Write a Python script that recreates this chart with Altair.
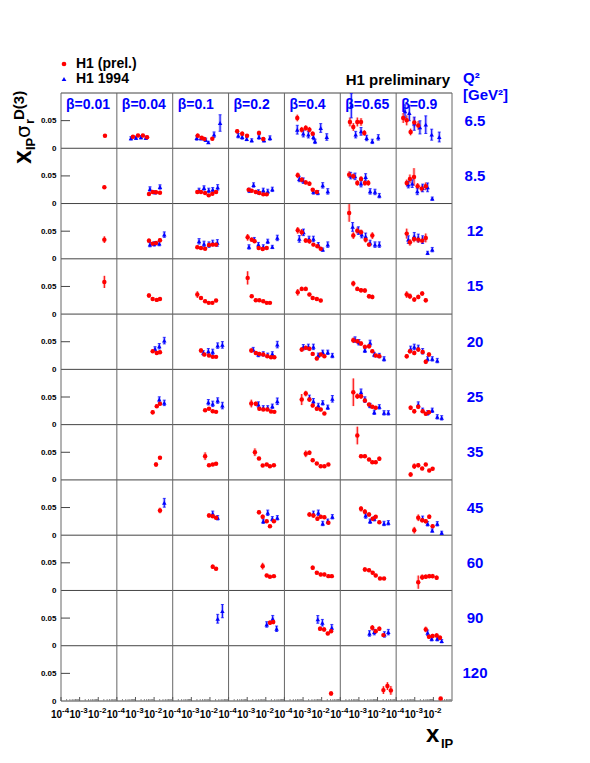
import math
import altair as alt
import pandas as pd

# ---------------- data -----------------
BETAS = [0.01, 0.04, 0.1, 0.2, 0.4, 0.65, 0.9]
BETA_LABELS = ["β=0.01", "β=0.04", "β=0.1", "β=0.2", "β=0.4", "β=0.65", "β=0.9"]
Q2S = [6.5, 8.5, 12, 15, 20, 25, 35, 45, 60, 90, 120]
Q2_LABELS = ["6.5", "8.5", "12", "15", "20", "25", "35", "45", "60", "90", "120"]
P, B = "H1 (prel.)", "H1 1994"
SERIES = [P, B]
X_TICK_BASE = "10"
X_TICK_EXPONENTS = ["-4", "-3", "-2"]
Y_TICK_LABELS = ["0", "0.05"]

# (beta, series, x_IP, x_IP * sigma_r^D(3), error)
Q2_6_5 = [
    (0.01, P, 0.023, 0.0228, 0.003),
    (0.04, P, 7.3e-4, 0.021, 0.003), (0.04, P, 1.37e-3, 0.023, 0.003), (0.04, P, 2.5e-3, 0.023, 0.003), (0.04, P, 4.2e-3, 0.020, 0.003),
    (0.04, B, 5.7e-4, 0.018, 0.003), (0.04, B, 1.07e-3, 0.019, 0.003), (0.04, B, 1.97e-3, 0.020, 0.003), (0.04, B, 3.6e-3, 0.019, 0.003),
    (0.1, P, 2.2e-3, 0.0228, 0.004), (0.1, P, 3.6e-3, 0.019, 0.003), (0.1, P, 5.0e-3, 0.017, 0.003), (0.1, P, 0.0134, 0.0174, 0.003),
    (0.1, B, 1.95e-3, 0.0186, 0.004), (0.1, B, 3.3e-3, 0.018, 0.003), (0.1, B, 5.9e-3, 0.0155, 0.003), (0.1, B, 8.2e-3, 0.0107, 0.002),
    (0.1, B, 0.0166, 0.0246, 0.005), (0.1, B, 0.035, 0.0457, 0.015),
    (0.2, P, 2.9e-4, 0.0306, 0.004), (0.2, P, 5.4e-4, 0.0264, 0.004), (0.2, P, 9.8e-4, 0.0228, 0.003), (0.2, P, 4.3e-3, 0.0277, 0.004), (0.2, P, 7.3e-3, 0.0168, 0.003),
    (0.2, B, 3.3e-4, 0.0228, 0.004), (0.2, B, 5.4e-4, 0.0204, 0.004), (0.2, B, 9.4e-4, 0.0168, 0.003), (0.2, B, 1.75e-3, 0.0143, 0.003),
    (0.2, B, 4.3e-3, 0.0204, 0.004), (0.2, B, 8.0e-3, 0.0143, 0.003), (0.2, B, 0.0167, 0.0186, 0.004),
    (0.4, P, 4.9e-4, 0.0548, 0.006), (0.4, P, 8.5e-4, 0.0336, 0.005), (0.4, P, 1.4e-3, 0.0367, 0.005), (0.4, P, 2.2e-3, 0.0336, 0.005), (0.4, P, 3.3e-3, 0.0264, 0.004),
    (0.4, B, 4.9e-4, 0.0336, 0.008), (0.4, B, 1.03e-3, 0.0264, 0.006), (0.4, B, 1.93e-3, 0.0246, 0.006), (0.4, B, 3.6e-3, 0.0204, 0.005),
    (0.4, B, 4.4e-3, 0.0125, 0.004), (0.4, B, 8.9e-3, 0.0367, 0.008), (0.4, B, 0.0188, 0.0204, 0.006),
    (0.65, P, 3.3e-4, 0.0476, 0.008), (0.65, P, 5.0e-4, 0.0385, 0.007), (0.65, P, 8.2e-4, 0.0476, 0.008), (0.65, P, 1.3e-3, 0.0476, 0.007), (0.65, P, 1.95e-3, 0.0277, 0.005),
    (0.65, B, 3.9e-4, 0.077, 0.022), (0.65, B, 6.7e-4, 0.0246, 0.006), (0.65, B, 1.3e-3, 0.0306, 0.007), (0.65, B, 2.6e-3, 0.0186, 0.005),
    (0.65, B, 5.25e-3, 0.0125, 0.004), (0.65, B, 0.011, 0.0197, 0.005),
    (0.9, P, 2.4e-4, 0.0548, 0.009), (0.9, P, 3.7e-4, 0.0505, 0.009), (0.9, P, 6.0e-4, 0.0295, 0.006), (0.9, P, 9.4e-4, 0.0468, 0.009), (0.9, P, 1.54e-3, 0.0414, 0.008),
    (0.9, B, 3.0e-4, 0.0667, 0.012), (0.9, B, 5.1e-4, 0.0638, 0.014), (0.9, B, 9.4e-4, 0.0445, 0.012), (0.9, B, 1.9e-3, 0.0378, 0.012),
    (0.9, B, 3.9e-3, 0.0427, 0.016), (0.9, B, 8.1e-3, 0.0246, 0.010), (0.9, B, 0.0207, 0.0204, 0.009),
]

Q2_8_5 = [
    (0.01, P, 0.0213, 0.0293, 0.003),
    (0.04, P, 5.3e-3, 0.0174, 0.002), (0.04, P, 8.4e-3, 0.021, 0.002), (0.04, P, 0.0127, 0.0203, 0.002), (0.04, P, 0.0207, 0.0197, 0.002),
    (0.04, B, 6.0e-3, 0.0264, 0.004), (0.04, B, 0.0112, 0.0203, 0.003), (0.04, B, 0.0207, 0.030, 0.004),
    (0.1, P, 2.1e-3, 0.021, 0.003), (0.1, P, 3.3e-3, 0.021, 0.002), (0.1, P, 5.5e-3, 0.0192, 0.002), (0.1, P, 8.6e-3, 0.0148, 0.002),
    (0.1, P, 0.0135, 0.0179, 0.002), (0.1, P, 0.0213, 0.021, 0.003),
    (0.1, B, 2.6e-3, 0.0239, 0.004), (0.1, B, 4.8e-3, 0.0282, 0.004), (0.1, B, 8.6e-3, 0.0239, 0.004), (0.1, B, 0.0141, 0.0251, 0.004), (0.1, B, 0.026, 0.0293, 0.005),
    (0.2, P, 1.2e-3, 0.0251, 0.003), (0.2, P, 1.75e-3, 0.0233, 0.003), (0.2, P, 2.9e-3, 0.021, 0.002), (0.2, P, 4.5e-3, 0.0192, 0.002),
    (0.2, P, 7.3e-3, 0.0166, 0.002), (0.2, P, 0.0112, 0.0166, 0.002),
    (0.2, B, 1.3e-3, 0.0239, 0.004), (0.2, B, 2.2e-3, 0.0336, 0.004), (0.2, B, 4.0e-3, 0.021, 0.004), (0.2, B, 7.3e-3, 0.0239, 0.004),
    (0.2, B, 0.0127, 0.022, 0.004), (0.2, B, 0.0224, 0.0257, 0.004),
    (0.4, P, 5.2e-4, 0.051, 0.005), (0.4, P, 8.5e-4, 0.0432, 0.004), (0.4, P, 1.4e-3, 0.0383, 0.004), (0.4, P, 2.2e-3, 0.036, 0.004),
    (0.4, P, 3.3e-3, 0.0251, 0.003), (0.4, P, 5.5e-3, 0.021, 0.003),
    (0.4, B, 6.3e-4, 0.0445, 0.005), (0.4, B, 1.03e-3, 0.0414, 0.005), (0.4, B, 3.6e-3, 0.021, 0.004), (0.4, B, 6.2e-3, 0.0197, 0.004),
    (0.4, B, 0.0114, 0.0329, 0.005), (0.4, B, 0.0213, 0.022, 0.005),
    (0.65, P, 3.0e-4, 0.0523, 0.006), (0.65, P, 5.0e-4, 0.0492, 0.005), (0.65, P, 8.2e-4, 0.0373, 0.005), (0.65, P, 1.3e-3, 0.0445, 0.005),
    (0.65, P, 2.1e-3, 0.0373, 0.005), (0.65, P, 3.2e-3, 0.0373, 0.005),
    (0.65, B, 3.6e-4, 0.0505, 0.006), (0.65, B, 6.2e-4, 0.0492, 0.006), (0.65, B, 1.3e-3, 0.036, 0.006), (0.65, B, 2.3e-3, 0.0481, 0.006),
    (0.65, B, 4.0e-3, 0.022, 0.005), (0.65, B, 7.3e-3, 0.021, 0.005), (0.65, B, 0.0125, 0.0143, 0.004),
    (0.9, P, 3.7e-4, 0.0373, 0.006), (0.9, P, 5.5e-4, 0.0445, 0.008), (0.9, P, 9.1e-4, 0.0481, 0.016), (0.9, P, 1.43e-3, 0.0311, 0.006),
    (0.9, P, 2.35e-3, 0.027, 0.006), (0.9, P, 3.9e-3, 0.0311, 0.007),
    (0.9, B, 4.5e-4, 0.0342, 0.006), (0.9, B, 7.3e-4, 0.036, 0.007), (0.9, B, 1.37e-3, 0.022, 0.006), (0.9, B, 2.65e-3, 0.0282, 0.007),
    (0.9, B, 4.9e-3, 0.0293, 0.008), (0.9, B, 8.7e-3, 0.0089, 0.003),
]

Q2_12 = [
    (0.01, P, 0.0213, 0.0347, 0.006),
    (0.04, P, 5.3e-3, 0.0329, 0.004), (0.04, P, 8.4e-3, 0.0275, 0.003), (0.04, P, 0.0127, 0.0288, 0.003), (0.04, P, 0.0207, 0.0335, 0.004),
    (0.04, B, 6.0e-3, 0.0257, 0.004), (0.04, B, 0.0102, 0.027, 0.004), (0.04, B, 0.019, 0.0275, 0.004), (0.04, B, 0.0353, 0.0438, 0.005),
    (0.1, P, 2.1e-3, 0.0208, 0.003), (0.1, P, 3.3e-3, 0.0197, 0.003), (0.1, P, 5.5e-3, 0.0184, 0.002), (0.1, P, 8.9e-3, 0.0251, 0.003),
    (0.1, P, 0.0141, 0.0257, 0.003), (0.1, P, 0.0213, 0.0257, 0.004),
    (0.1, B, 2.6e-3, 0.0316, 0.005), (0.1, B, 4.8e-3, 0.027, 0.005), (0.1, B, 8.9e-3, 0.0257, 0.005), (0.1, B, 0.0141, 0.0288, 0.005), (0.1, B, 0.025, 0.0288, 0.006),
    (0.2, P, 1.06e-3, 0.0389, 0.006), (0.2, P, 1.75e-3, 0.0347, 0.004), (0.2, P, 2.5e-3, 0.0316, 0.003), (0.2, P, 4.15e-3, 0.0197, 0.003),
    (0.2, P, 6.8e-3, 0.0179, 0.003), (0.2, P, 0.0112, 0.0197, 0.003),
    (0.2, B, 1.25e-3, 0.0215, 0.004), (0.2, B, 2.4e-3, 0.0347, 0.004), (0.2, B, 4.0e-3, 0.0257, 0.004), (0.2, B, 7.3e-3, 0.0215, 0.004),
    (0.2, B, 0.0127, 0.0316, 0.004), (0.2, B, 0.0224, 0.0215, 0.003), (0.2, B, 0.0415, 0.0378, 0.005),
    (0.4, P, 5.2e-4, 0.0515, 0.006), (0.4, P, 8.5e-4, 0.048, 0.006), (0.4, P, 1.4e-3, 0.033, 0.004), (0.4, P, 2.2e-3, 0.0316, 0.004),
    (0.4, P, 3.6e-3, 0.0257, 0.003), (0.4, P, 5.9e-3, 0.0226, 0.003), (0.4, P, 8.9e-3, 0.0184, 0.003),
    (0.4, B, 6.3e-4, 0.036, 0.006), (0.4, B, 1.06e-3, 0.0479, 0.006), (0.4, B, 2.1e-3, 0.036, 0.005), (0.4, B, 3.6e-3, 0.036, 0.005),
    (0.4, B, 6.6e-3, 0.0257, 0.004), (0.4, B, 0.0114, 0.0166, 0.003), (0.4, B, 0.0213, 0.0257, 0.005),
    (0.65, P, 3.0e-4, 0.083, 0.016), (0.65, P, 5.0e-4, 0.042, 0.006), (0.65, P, 8.2e-4, 0.051, 0.006), (0.65, P, 1.3e-3, 0.0479, 0.005),
    (0.65, P, 2.3e-3, 0.0347, 0.005), (0.65, P, 3.5e-3, 0.0257, 0.004), (0.65, P, 5.25e-3, 0.042, 0.006),
    (0.65, B, 4.6e-4, 0.0577, 0.008), (0.65, B, 9.3e-4, 0.051, 0.007), (0.65, B, 1.41e-3, 0.0438, 0.006), (0.65, B, 2.3e-3, 0.0407, 0.006),
    (0.65, B, 4.0e-3, 0.0288, 0.005), (0.65, B, 7.3e-3, 0.0257, 0.005), (0.65, B, 0.0125, 0.0257, 0.005),
    (0.9, P, 3.7e-4, 0.0456, 0.009), (0.9, P, 5.5e-4, 0.0298, 0.006), (0.9, P, 9.1e-4, 0.036, 0.006), (0.9, P, 1.54e-3, 0.0347, 0.006),
    (0.9, P, 2.5e-3, 0.0329, 0.006), (0.9, P, 3.9e-3, 0.0378, 0.008),
    (0.9, B, 4.5e-4, 0.0347, 0.007), (0.9, B, 9.4e-4, 0.0407, 0.007), (0.9, B, 1.54e-3, 0.0378, 0.007), (0.9, B, 2.65e-3, 0.0347, 0.007),
    (0.9, B, 4.9e-3, 0.0107, 0.003), (0.9, B, 8.7e-3, 0.0166, 0.004),
]

Q2_15 = [
    (0.01, P, 0.0213, 0.0582, 0.011),
    (0.04, P, 5.3e-3, 0.0335, 0.004), (0.04, P, 8.4e-3, 0.0275, 0.003), (0.04, P, 0.0139, 0.0257, 0.003), (0.04, P, 0.0207, 0.0275, 0.003),
    (0.1, P, 2.1e-3, 0.0353, 0.006), (0.1, P, 3.3e-3, 0.0293, 0.003), (0.1, P, 5.5e-3, 0.0231, 0.003), (0.1, P, 8.6e-3, 0.0203, 0.002),
    (0.1, P, 0.0135, 0.0203, 0.002), (0.1, P, 0.0213, 0.0244, 0.003),
    (0.2, P, 1.06e-3, 0.0655, 0.012), (0.2, P, 1.75e-3, 0.0322, 0.003), (0.2, P, 2.9e-3, 0.025, 0.003), (0.2, P, 4.5e-3, 0.025, 0.002),
    (0.2, P, 7.3e-3, 0.0231, 0.002), (0.2, P, 0.0112, 0.0203, 0.002), (0.2, P, 0.0167, 0.0203, 0.002),
    (0.4, P, 5.2e-4, 0.0394, 0.006), (0.4, P, 8.5e-4, 0.0456, 0.004), (0.4, P, 1.4e-3, 0.0456, 0.004), (0.4, P, 2.2e-3, 0.0353, 0.003),
    (0.4, P, 3.3e-3, 0.0293, 0.003), (0.4, P, 5.5e-3, 0.0275, 0.003), (0.4, P, 8.9e-3, 0.0244, 0.003),
    (0.65, P, 5.0e-4, 0.0552, 0.005), (0.65, P, 8.2e-4, 0.0456, 0.004), (0.65, P, 1.3e-3, 0.043, 0.004), (0.65, P, 2.1e-3, 0.0425, 0.004),
    (0.65, P, 3.5e-3, 0.0322, 0.004), (0.65, P, 5.25e-3, 0.0311, 0.004),
    (0.9, P, 3.7e-4, 0.0353, 0.006), (0.9, P, 5.5e-4, 0.0322, 0.005), (0.9, P, 9.4e-4, 0.0262, 0.004), (0.9, P, 1.54e-3, 0.0311, 0.004),
    (0.9, P, 2.5e-3, 0.0371, 0.004), (0.9, P, 3.9e-3, 0.025, 0.004),
]

Q2_20 = [
    (0.04, P, 8.4e-3, 0.0327, 0.003), (0.04, P, 0.0139, 0.0298, 0.003), (0.04, P, 0.0207, 0.0309, 0.003),
    (0.04, B, 0.0112, 0.0371, 0.004), (0.04, B, 0.019, 0.0418, 0.005), (0.04, B, 0.0353, 0.052, 0.006),
    (0.1, P, 3.3e-3, 0.034, 0.004), (0.1, P, 5.0e-3, 0.0268, 0.003), (0.1, P, 8.9e-3, 0.025, 0.002), (0.1, P, 0.0141, 0.0226, 0.002), (0.1, P, 0.0213, 0.0226, 0.002),
    (0.1, B, 4.4e-3, 0.0298, 0.004), (0.1, B, 8.2e-3, 0.0327, 0.005), (0.1, B, 0.0141, 0.0316, 0.005), (0.1, B, 0.026, 0.043, 0.005), (0.1, B, 0.0465, 0.0443, 0.006),
    (0.2, P, 1.66e-3, 0.034, 0.004), (0.2, P, 2.9e-3, 0.0298, 0.003), (0.2, P, 4.5e-3, 0.028, 0.002), (0.2, P, 7.3e-3, 0.0268, 0.002),
    (0.2, P, 0.012, 0.0237, 0.002), (0.2, P, 0.019, 0.0219, 0.002), (0.2, P, 0.0287, 0.0219, 0.002),
    (0.2, B, 2.1e-3, 0.0358, 0.004), (0.2, B, 4.0e-3, 0.0268, 0.004), (0.2, B, 7.3e-3, 0.028, 0.004), (0.2, B, 0.0127, 0.0255, 0.004),
    (0.2, B, 0.0224, 0.028, 0.004), (0.2, B, 0.0415, 0.0448, 0.006),
    (0.4, P, 8.5e-4, 0.0358, 0.004), (0.4, P, 1.4e-3, 0.0389, 0.004), (0.4, P, 2.2e-3, 0.0371, 0.004), (0.4, P, 3.3e-3, 0.028, 0.003),
    (0.4, P, 5.5e-3, 0.0195, 0.003), (0.4, P, 8.9e-3, 0.0268, 0.003), (0.4, P, 0.014, 0.0237, 0.003),
    (0.4, B, 1.03e-3, 0.040, 0.005), (0.4, B, 1.93e-3, 0.0407, 0.005), (0.4, B, 3.6e-3, 0.0407, 0.005), (0.4, B, 6.6e-3, 0.0255, 0.004),
    (0.4, B, 0.0114, 0.0309, 0.004), (0.4, B, 0.0213, 0.0309, 0.004), (0.4, B, 0.0375, 0.025, 0.004),
    (0.65, P, 5.0e-4, 0.0526, 0.005), (0.65, P, 8.2e-4, 0.0508, 0.004), (0.65, P, 1.3e-3, 0.0467, 0.004), (0.65, P, 2.1e-3, 0.0407, 0.004),
    (0.65, P, 3.5e-3, 0.0418, 0.004), (0.65, P, 5.25e-3, 0.0327, 0.003), (0.65, P, 8.0e-3, 0.025, 0.003), (0.65, P, 0.0125, 0.0237, 0.003),
    (0.65, B, 6.2e-4, 0.0539, 0.005), (0.65, B, 1.0e-3, 0.049, 0.005), (0.65, B, 2.1e-3, 0.0345, 0.004), (0.65, B, 4.0e-3, 0.0479, 0.005),
    (0.65, B, 6.7e-3, 0.0268, 0.004), (0.65, B, 0.0125, 0.025, 0.004), (0.65, B, 0.0224, 0.019, 0.004),
    (0.9, P, 3.7e-4, 0.0237, 0.004), (0.9, P, 5.5e-4, 0.0327, 0.004), (0.9, P, 9.4e-4, 0.0298, 0.004), (0.9, P, 1.54e-3, 0.0358, 0.004),
    (0.9, P, 2.65e-3, 0.0316, 0.004), (0.9, P, 3.9e-3, 0.0136, 0.004), (0.9, P, 5.8e-3, 0.0268, 0.004),
    (0.9, B, 6.0e-4, 0.0371, 0.005), (0.9, B, 9.4e-4, 0.0407, 0.005), (0.9, B, 1.54e-3, 0.0389, 0.005), (0.9, B, 2.65e-3, 0.0327, 0.005),
    (0.9, B, 4.9e-3, 0.019, 0.004), (0.9, B, 8.7e-3, 0.019, 0.004), (0.9, B, 0.0162, 0.0159, 0.004),
]

Q2_25 = [
    (0.04, P, 8.4e-3, 0.0224, 0.004), (0.04, P, 0.0139, 0.0333, 0.003), (0.04, P, 0.0207, 0.0376, 0.003),
    (0.04, B, 0.019, 0.0454, 0.005), (0.04, B, 0.0353, 0.0394, 0.005),
    (0.1, P, 5.5e-3, 0.026, 0.002), (0.1, P, 8.9e-3, 0.0286, 0.002), (0.1, P, 0.0141, 0.0242, 0.002), (0.1, P, 0.0213, 0.0231, 0.002),
    (0.1, B, 8.2e-3, 0.0405, 0.005), (0.1, B, 0.0141, 0.0376, 0.005), (0.1, B, 0.026, 0.0436, 0.005), (0.1, B, 0.0465, 0.0345, 0.006),
    (0.2, P, 1.66e-3, 0.0382, 0.007), (0.2, P, 2.9e-3, 0.0376, 0.004), (0.2, P, 4.5e-3, 0.0286, 0.003), (0.2, P, 7.3e-3, 0.0273, 0.002),
    (0.2, P, 0.012, 0.0273, 0.002), (0.2, P, 0.019, 0.0237, 0.002), (0.2, P, 0.0287, 0.0231, 0.002),
    (0.2, B, 4.0e-3, 0.0363, 0.005), (0.2, B, 7.3e-3, 0.0304, 0.004), (0.2, B, 0.0127, 0.0304, 0.004), (0.2, B, 0.0224, 0.0333, 0.004), (0.2, B, 0.0415, 0.0423, 0.006),
    (0.4, P, 8.5e-4, 0.0454, 0.010), (0.4, P, 1.4e-3, 0.0562, 0.005), (0.4, P, 2.2e-3, 0.0454, 0.004), (0.4, P, 3.3e-3, 0.0345, 0.003),
    (0.4, P, 5.5e-3, 0.0286, 0.003), (0.4, P, 8.9e-3, 0.0273, 0.003), (0.4, P, 0.014, 0.0201, 0.002),
    (0.4, B, 2.2e-3, 0.0485, 0.005), (0.4, B, 3.6e-3, 0.0423, 0.005), (0.4, B, 6.6e-3, 0.0345, 0.004), (0.4, B, 0.0114, 0.0394, 0.004),
    (0.4, B, 0.0213, 0.0315, 0.004), (0.4, B, 0.0375, 0.0467, 0.006),
    (0.65, P, 5.0e-4, 0.0586, 0.025), (0.65, P, 8.2e-4, 0.0514, 0.005), (0.65, P, 1.3e-3, 0.0514, 0.005), (0.65, P, 2.1e-3, 0.0436, 0.004),
    (0.65, P, 3.5e-3, 0.0363, 0.003), (0.65, P, 5.25e-3, 0.0322, 0.003), (0.65, P, 8.0e-3, 0.0304, 0.003),
    (0.65, B, 1.3e-3, 0.0586, 0.006), (0.65, B, 2.1e-3, 0.0454, 0.005), (0.65, B, 4.0e-3, 0.0345, 0.004), (0.65, B, 6.7e-3, 0.0224, 0.004),
    (0.65, B, 0.0125, 0.0322, 0.004), (0.65, B, 0.0224, 0.0213, 0.004), (0.65, B, 0.038, 0.0213, 0.004),
    (0.9, P, 6.0e-4, 0.0304, 0.004), (0.9, P, 9.4e-4, 0.0242, 0.004), (0.9, P, 1.54e-3, 0.0322, 0.004), (0.9, P, 2.65e-3, 0.0242, 0.003),
    (0.9, P, 3.9e-3, 0.0195, 0.003), (0.9, P, 5.8e-3, 0.0224, 0.003),
    (0.9, B, 1.54e-3, 0.0363, 0.005), (0.9, B, 2.65e-3, 0.026, 0.004), (0.9, B, 4.9e-3, 0.0213, 0.004), (0.9, B, 8.7e-3, 0.026, 0.004),
    (0.9, B, 0.0162, 0.0141, 0.004), (0.9, B, 0.0279, 0.0123, 0.004),
]

Q2_35 = [
    (0.04, P, 0.0127, 0.0278, 0.004), (0.04, P, 0.0207, 0.040, 0.003),
    (0.1, P, 5.5e-3, 0.0429, 0.007), (0.1, P, 8.9e-3, 0.0266, 0.002), (0.1, P, 0.0141, 0.0278, 0.002), (0.1, P, 0.0213, 0.0291, 0.002),
    (0.2, P, 2.6e-3, 0.0501, 0.007), (0.2, P, 4.3e-3, 0.0387, 0.003), (0.2, P, 6.8e-3, 0.026, 0.002), (0.2, P, 0.0112, 0.0278, 0.002),
    (0.2, P, 0.0167, 0.0248, 0.002), (0.2, P, 0.0272, 0.0266, 0.002),
    (0.4, P, 1.4e-3, 0.0472, 0.006), (0.4, P, 2.2e-3, 0.049, 0.004), (0.4, P, 3.3e-3, 0.0356, 0.003), (0.4, P, 5.5e-3, 0.0297, 0.002),
    (0.4, P, 8.9e-3, 0.0248, 0.002), (0.4, P, 0.014, 0.0248, 0.002), (0.4, P, 0.023, 0.0278, 0.002),
    (0.65, P, 8.2e-4, 0.0803, 0.016), (0.65, P, 1.3e-3, 0.0429, 0.003), (0.65, P, 2.1e-3, 0.0429, 0.003), (0.65, P, 3.5e-3, 0.0369, 0.003),
    (0.65, P, 5.25e-3, 0.032, 0.003), (0.65, P, 8.0e-3, 0.032, 0.003), (0.65, P, 0.0125, 0.0382, 0.004),
    (0.9, P, 6.0e-4, 0.0098, 0.004), (0.9, P, 9.4e-4, 0.0248, 0.005), (0.9, P, 1.54e-3, 0.0266, 0.004), (0.9, P, 2.5e-3, 0.0206, 0.003),
    (0.9, P, 3.9e-3, 0.0278, 0.003), (0.9, P, 6.0e-3, 0.017, 0.003), (0.9, P, 9.1e-3, 0.0201, 0.003),
]

Q2_45 = [
    (0.04, P, 0.0207, 0.0447, 0.005), (0.04, B, 0.0353, 0.0586, 0.008),
    (0.1, P, 8.9e-3, 0.0356, 0.004), (0.1, P, 0.0141, 0.0344, 0.003), (0.1, P, 0.0213, 0.0315, 0.003),
    (0.1, B, 0.0141, 0.0387, 0.005), (0.1, B, 0.026, 0.0315, 0.004),
    (0.2, P, 4.3e-3, 0.0416, 0.004), (0.2, P, 6.8e-3, 0.0333, 0.004), (0.2, P, 0.0112, 0.0253, 0.003), (0.2, P, 0.0167, 0.0163, 0.002), (0.2, P, 0.0272, 0.0253, 0.003),
    (0.2, B, 7.3e-3, 0.0253, 0.004), (0.2, B, 0.0127, 0.0405, 0.005), (0.2, B, 0.0224, 0.0297, 0.004), (0.2, B, 0.0415, 0.0315, 0.004),
    (0.4, P, 2.2e-3, 0.0374, 0.004), (0.4, P, 3.6e-3, 0.0356, 0.004), (0.4, P, 5.9e-3, 0.0297, 0.004), (0.4, P, 8.9e-3, 0.0333, 0.003),
    (0.4, P, 0.014, 0.0325, 0.003), (0.4, P, 0.023, 0.0224, 0.003),
    (0.4, B, 3.6e-3, 0.0387, 0.005), (0.4, B, 6.6e-3, 0.0405, 0.005), (0.4, B, 0.0114, 0.0212, 0.004), (0.4, B, 0.0213, 0.0253, 0.004), (0.4, B, 0.0375, 0.0333, 0.004),
    (0.65, P, 1.3e-3, 0.0477, 0.005), (0.65, P, 2.1e-3, 0.0423, 0.005), (0.65, P, 3.5e-3, 0.0374, 0.004), (0.65, P, 5.5e-3, 0.0297, 0.003),
    (0.65, P, 8.0e-3, 0.0333, 0.003), (0.65, P, 0.0125, 0.0235, 0.003),
    (0.65, B, 2.3e-3, 0.0356, 0.005), (0.65, B, 4.0e-3, 0.0253, 0.004), (0.65, B, 6.7e-3, 0.0297, 0.004), (0.65, B, 0.0224, 0.0212, 0.004), (0.65, B, 0.038, 0.0224, 0.004),
    (0.9, P, 9.4e-4, 0.009, 0.006), (0.9, P, 1.54e-3, 0.0315, 0.006), (0.9, P, 2.5e-3, 0.0271, 0.004), (0.9, P, 3.9e-3, 0.0253, 0.004),
    (0.9, P, 6.0e-3, 0.0333, 0.004), (0.9, P, 9.1e-3, 0.0163, 0.003),
    (0.9, B, 2.65e-3, 0.0297, 0.005), (0.9, B, 4.9e-3, 0.0206, 0.004), (0.9, B, 8.7e-3, 0.0085, 0.003), (0.9, B, 0.0162, 0.0206, 0.004), (0.9, B, 0.0279, 0.0043, 0.003),
]

Q2_60 = [
    (0.1, P, 0.0141, 0.0429, 0.004), (0.1, P, 0.0213, 0.0392, 0.003),
    (0.2, P, 6.8e-3, 0.044, 0.006), (0.2, P, 0.0112, 0.0271, 0.003), (0.2, P, 0.0167, 0.0248, 0.002), (0.2, P, 0.0272, 0.0259, 0.002),
    (0.4, P, 3.3e-3, 0.041, 0.004), (0.4, P, 5.5e-3, 0.032, 0.003), (0.4, P, 8.9e-3, 0.0289, 0.003), (0.4, P, 0.014, 0.0289, 0.003),
    (0.4, P, 0.023, 0.0259, 0.003), (0.4, P, 0.035, 0.0259, 0.003),
    (0.65, P, 2.1e-3, 0.038, 0.004), (0.65, P, 3.5e-3, 0.0367, 0.003), (0.65, P, 5.5e-3, 0.032, 0.003), (0.65, P, 8.0e-3, 0.0271, 0.003),
    (0.65, P, 0.0136, 0.0217, 0.002), (0.65, P, 0.0224, 0.0217, 0.002),
    (0.9, P, 1.54e-3, 0.015, 0.012), (0.9, P, 2.5e-3, 0.024, 0.005), (0.9, P, 3.9e-3, 0.0248, 0.004), (0.9, P, 6.0e-3, 0.0259, 0.004),
    (0.9, P, 9.1e-3, 0.0259, 0.004), (0.9, P, 0.015, 0.023, 0.004),
]

Q2_90 = [
    (0.1, B, 0.026, 0.0488, 0.008), (0.1, B, 0.0465, 0.0626, 0.012),
    (0.2, P, 0.0167, 0.0416, 0.004), (0.2, P, 0.025, 0.043, 0.004),
    (0.2, B, 0.0112, 0.0385, 0.005), (0.2, B, 0.0235, 0.0488, 0.006), (0.2, B, 0.038, 0.0307, 0.005),
    (0.4, P, 8.2e-3, 0.0307, 0.004), (0.4, P, 0.0135, 0.0295, 0.004), (0.4, P, 0.0213, 0.0222, 0.003), (0.4, P, 0.032, 0.0264, 0.004),
    (0.4, B, 6.2e-3, 0.0476, 0.007), (0.4, B, 0.0109, 0.0416, 0.006), (0.4, B, 0.035, 0.0325, 0.006),
    (0.65, P, 5.25e-3, 0.0325, 0.005), (0.65, P, 8.0e-3, 0.0264, 0.004), (0.65, P, 0.0125, 0.0307, 0.004), (0.65, P, 0.0207, 0.0192, 0.003),
    (0.65, B, 3.7e-3, 0.0222, 0.005), (0.65, B, 6.7e-3, 0.0246, 0.005), (0.65, B, 0.0234, 0.0204, 0.005), (0.65, B, 0.038, 0.0246, 0.005),
    (0.9, P, 3.9e-3, 0.0295, 0.005), (0.9, P, 5.8e-3, 0.0163, 0.004), (0.9, P, 9.1e-3, 0.0174, 0.004), (0.9, P, 0.015, 0.0186, 0.004), (0.9, P, 0.0227, 0.0145, 0.004),
    (0.9, B, 4.9e-3, 0.0235, 0.005), (0.9, B, 8.1e-3, 0.0127, 0.004), (0.9, B, 0.0162, 0.0127, 0.004), (0.9, B, 0.0279, 0.0083, 0.003),
]

Q2_120 = [
    (0.4, P, 0.032, 0.0137, 0.004),
    (0.65, P, 0.0207, 0.0197, 0.007), (0.65, P, 0.034, 0.027, 0.007), (0.65, P, 0.052, 0.0192, 0.008),
    (0.9, P, 0.0246, 0.0047, 0.002),
]

ROWS = [Q2_6_5, Q2_8_5, Q2_12, Q2_15, Q2_20, Q2_25, Q2_35, Q2_45, Q2_60, Q2_90, Q2_120]

# ---------------- layout constants -----------------
NCOL, NROW = len(BETAS), len(Q2S)
DEC = 3            # decades of x_IP shown per panel (1e-4 .. 1e-1)
YSPAN = 0.1        # y range shown per panel (0 .. 0.1)
W, H = 391, 608
FONT = "Liberation Sans"
RED, BLUE = "#ff0000", "#0000ff"

recs = []
for r, pts in enumerate(ROWS):
    for beta, s, x, y, e in pts:
        recs.append(dict(row=r, col=BETAS.index(beta), series=s, x=x, y=y, e=e))
df = pd.DataFrame(recs)

xs = alt.Scale(domain=[0, NCOL * DEC], nice=False, zero=False)
ys = alt.Scale(domain=[0, NROW * YSPAN], nice=False, zero=False)

y_vals = [round(r * YSPAN + k * YSPAN / 2, 4) for r in range(NROW) for k in range(2)]

x_axis = alt.Axis(labels=False, title=None, grid=False, domain=False, ticks=False)
y_axis = alt.Axis(values=y_vals, title=None, grid=False, domain=False, ticks=False,
                  labelExpr=f"{Y_TICK_LABELS}[round(datum.value * 20) % 2]",
                  labelFont=FONT, labelFontSize=8, labelFontWeight="bold", labelColor="black",
                  labelPadding=5, labelOverlap=False, labelFlush=False, labelBound=False)

XE = alt.X("X:Q", scale=xs, axis=x_axis)
YE = alt.Y("Y:Q", scale=ys, axis=y_axis)

base = alt.Chart(df).transform_calculate(
    X=f"datum.col * {DEC} + log(datum.x) / LN10 + 4",
    Y=f"({NROW - 1} - datum.row) * {YSPAN} + datum.y",
).transform_calculate(
    lo="datum.Y - datum.e", hi="datum.Y + datum.e"
)

def errs(series, light, dark, caps):
    b = base.transform_filter(alt.datum.series == series)
    layers = [
        b.mark_rule(color=light, strokeWidth=3, opacity=0.55).encode(
            x=XE, y=alt.Y("lo:Q", scale=ys, axis=y_axis), y2="hi:Q"),
        b.mark_rule(color=dark, strokeWidth=1).encode(
            x=XE, y=alt.Y("lo:Q", scale=ys, axis=y_axis), y2="hi:Q"),
    ]
    if caps:
        for f in ("lo", "hi"):
            layers.append(b.mark_tick(color=dark, orient="horizontal", size=3, thickness=1).encode(
                x=XE, y=alt.Y(f"{f}:Q", scale=ys, axis=y_axis)))
    return layers

legend = alt.Legend(orient="none", legendX=-4, legendY=-36, title=None,
                    labelFont=FONT, labelFontSize=14, labelFontWeight="bold",
                    labelColor="black", symbolSize=22, rowPadding=1,
                    labelOffset=5, padding=0)

points = base.mark_point(filled=True, opacity=1, size=20).encode(
    x=XE, y=YE,
    color=alt.Color("series:N", scale=alt.Scale(domain=SERIES, range=[RED, BLUE]), legend=legend),
    shape=alt.Shape("series:N", scale=alt.Scale(domain=SERIES, range=["circle", "triangle-up"]), legend=legend),
    order=alt.Order("series:N", sort="descending"),
)

# panel frames
vlines = alt.Chart(pd.DataFrame({"c": list(range(NCOL + 1))})).transform_calculate(
    X=f"datum.c * {DEC}").mark_rule(color="#666666", strokeWidth=1).encode(
    x=XE, y=alt.value(0), y2=alt.value(H))
hlines = alt.Chart(pd.DataFrame({"r": list(range(NROW + 1))})).transform_calculate(
    Y=f"datum.r * {YSPAN}").mark_rule(color="#444444", strokeWidth=1).encode(
    y=YE, x=alt.value(0), x2=alt.value(W))

# inner y ticks at 0.05 on the left column
ytick = alt.Chart(pd.DataFrame({"r": list(range(NROW))})).transform_calculate(
    Y=f"datum.r * {YSPAN} + {YSPAN / 2}").mark_rule(color="#444444").encode(
    y=YE, x=alt.value(0), x2=alt.value(9))

# inner log ticks along the bottom
tick_rows = []
for c in range(NCOL):
    for d in range(DEC):
        for m in range(1, 10):
            tick_rows.append(dict(X=c * DEC + d + math.log10(m), major=(m == 1)))
ticks_df = pd.DataFrame(tick_rows)
major_ticks = alt.Chart(ticks_df[ticks_df.major]).mark_rule(color="#555555").encode(
    x=XE, y=alt.value(H), y2=alt.value(H - 4))
minor_ticks = alt.Chart(ticks_df[~ticks_df.major]).mark_rule(color="#888888").encode(
    x=XE, y=alt.value(H), y2=alt.value(H - 2))

# x tick labels "10" with a raised exponent, one per decade per panel
xlab_df = pd.DataFrame([dict(X=c * DEC + k, base=X_TICK_BASE, exp=X_TICK_EXPONENTS[k])
                        for c in range(NCOL) for k in range(DEC)])
xlab_base = alt.Chart(xlab_df).mark_text(
    align="right", baseline="alphabetic", dx=1, font=FONT, fontSize=10, fontWeight="bold",
    color="black").encode(x=XE, y=alt.value(H + 17), text="base:N")
xlab_exp = alt.Chart(xlab_df).mark_text(
    align="left", baseline="alphabetic", dx=1, font=FONT, fontSize=8, fontWeight="bold",
    color="black").encode(x=XE, y=alt.value(H + 12), text="exp:N")

# beta labels inside the top row
beta_txt = alt.Chart(pd.DataFrame({"c": list(range(NCOL)), "label": BETA_LABELS})).transform_calculate(
    X=f"datum.c * {DEC}").mark_text(align="left", baseline="top", dx=5, dy=5, font=FONT,
                                    fontSize=14, fontWeight="bold", color=BLUE).encode(
    x=XE, y=alt.value(0), text="label:N")

# Q2 labels on the right
q2_txt = alt.Chart(pd.DataFrame({"r": list(range(NROW)), "label": Q2_LABELS})).transform_calculate(
    Y=f"({NROW - 1} - datum.r) * {YSPAN} + {YSPAN / 2}").mark_text(
    align="center", baseline="middle", font=FONT, fontSize=15, fontWeight="bold", color=BLUE).encode(
    y=YE, x=alt.value(W + 23), text="label:N")

def txt(text, x, y, size, color="black", weight="bold", angle=0, align="left", font=FONT,
        baseline="alphabetic"):
    return alt.Chart(pd.DataFrame({"t": [text]})).mark_text(
        align=align, baseline=baseline, font=font, fontSize=size, fontWeight=weight,
        color=color, angle=angle).encode(x=alt.value(x), y=alt.value(y), text="t:N")

annotations = [
    txt("H1 preliminary", W - 2, -8, 15, align="right"),
    txt("Q²", W + 11, -10, 15, color=BLUE),
    txt("[GeV²]", W + 11, 7, 15, color=BLUE),
    # y title: x_IP sigma_r^D(3), rotated
    txt("x", -30, 71, 25, angle=270),
    txt("IP", -26, 57, 13, angle=270),
    txt("σ", -31, 45, 20, weight="normal", angle=270, font="DejaVu Sans"),
    txt("r", -27, 31, 13, angle=270),
    txt("D(3)", -37, 27, 15, angle=270),
    # x title (below the tick labels)
    txt("x", 365, 649, 24),
    txt("IP", 380, 655, 13),
]

layers = [hlines, vlines, ytick, major_ticks, minor_ticks, xlab_base, xlab_exp]
layers += errs(P, "#ff8c8c", RED, False)
layers += errs(B, "#8c8cff", BLUE, True)
layers += [points, beta_txt, q2_txt] + annotations

chart = alt.layer(*layers).properties(
    width=W, height=H,
    padding={"left": 53, "top": 85, "right": 120, "bottom": 50},
    autosize=alt.AutoSizeParams(type="none"),
).configure_view(stroke=None).configure_legend(symbolStrokeWidth=0)

chart.save("out.html", embed_options={"renderer": "svg", "actions": False})
